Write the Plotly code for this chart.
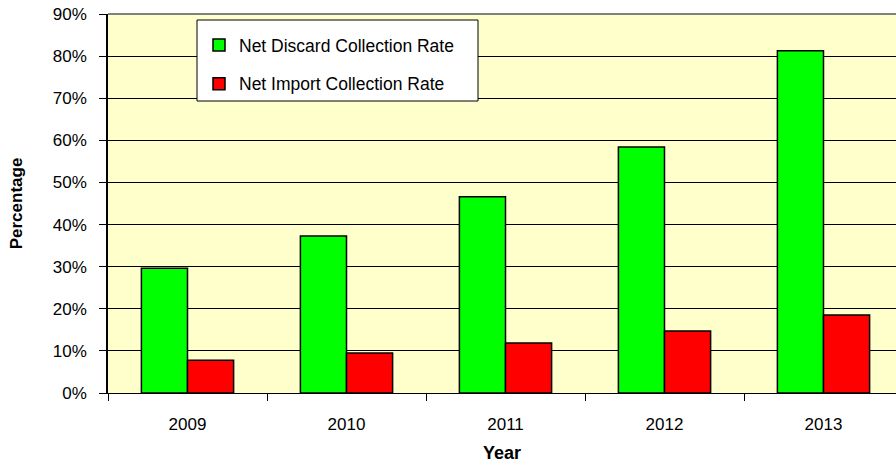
import plotly.graph_objects as go

years = ["2009", "2010", "2011", "2012", "2013"]
discard_rate = [29.6, 37.3, 46.6, 58.4, 81.3]
import_rate = [7.8, 9.5, 11.9, 14.7, 18.5]

fig = go.Figure()
fig.add_trace(go.Bar(x=years, y=discard_rate, name="Net Discard Collection Rate",
                     marker=dict(color="#00FF00", line=dict(color="#000000", width=1.5)),
                     legendgroup="a"))
fig.add_trace(go.Bar(x=years, y=import_rate, name="Net Import Collection Rate",
                     marker=dict(color="#FF0000", line=dict(color="#000000", width=1.5)),
                     legendgroup="b"))

font = "Liberation Sans, Arial, sans-serif"
L, T, B = 108, 14, 393
W = 896 - L
H = B - T


def px(x):
    return (x - L) / W


def py(y):
    return (B - y) / H


fig.update_layout(
    width=896, height=470,
    margin=dict(l=L, r=0, t=T, b=470 - B),
    paper_bgcolor="white", plot_bgcolor="#FFFFCC",
    barmode="group", bargap=0.42, bargroupgap=0,
    font=dict(family=font, size=17, color="black"),
    legend=dict(x=px(199), y=py(27), xanchor="left", yanchor="top",
                bgcolor="rgba(0,0,0,0)", borderwidth=0,
                font=dict(size=17.5), tracegroupgap=13, itemwidth=30),
    xaxis=dict(range=[-0.5, 4.456], tickson="boundaries", ticks="outside", ticklen=7,
               tickcolor="black", showline=True, linecolor="black", linewidth=1,
               ticklabelstandoff=16,
               title=dict(text="<b>Year</b>", font=dict(size=18), standoff=12),
               tickfont=dict(size=17)),
    yaxis=dict(range=[0, 90], dtick=10, ticksuffix="%", ticks="outside", ticklen=7,
               tickcolor="black", showline=True, linecolor="black", linewidth=1.5,
               gridcolor="black", gridwidth=1, zeroline=False,
               ticklabelstandoff=9,
               title=dict(text="<b>Percentage</b>", font=dict(size=17), standoff=26),
               tickfont=dict(size=17)),
)
fig.add_shape(type="line", xref="paper", yref="paper", x0=0, x1=1, y0=1, y1=1,
              line=dict(color="#808080", width=2))
fig.add_shape(type="rect", xref="paper", yref="paper", layer="above",
              x0=px(197), x1=px(478), y0=py(101), y1=py(20),
              fillcolor="white", line=dict(color="black", width=1))
fig.write_html("out.html")
